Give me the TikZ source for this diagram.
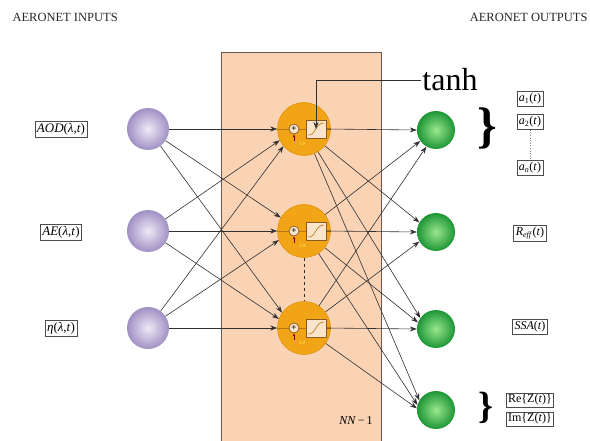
\documentclass[tikz,border=0pt]{standalone}
\usepackage{fontspec}
\setmainfont{Liberation Serif}
\usetikzlibrary{arrows.meta}
\definecolor{peach}{HTML}{FAD2B4}
\definecolor{peachline}{HTML}{6A5A50}
\definecolor{neuronfill}{HTML}{F0A416}
\definecolor{neuronline}{HTML}{E0960C}
\definecolor{innerc}{HTML}{B87410}
\definecolor{boxfill}{HTML}{FBE4CC}
\definecolor{boxline}{HTML}{8A5A20}
\definecolor{lavout}{HTML}{A090C4}
\definecolor{lavin}{HTML}{EEEAF6}
\definecolor{grout}{HTML}{1C9636}
\definecolor{grin}{HTML}{9BE68E}
\definecolor{arrc}{HTML}{303030}
\begin{document}
\begin{tikzpicture}[x=1pt,y=-1pt,
  inball/.style={circle,minimum size=42pt,inner sep=0pt,shading=radial,inner color=lavin,outer color=lavout},
  outball/.style={circle,minimum size=38pt,inner sep=0pt,shading=radial,inner color=grin,outer color=grout},
  neuron/.style={circle,minimum size=53pt,inner sep=0pt,fill=neuronfill,draw=neuronline,line width=0.6pt},
  innerline/.style={draw=innerc,line width=0.8pt},
  plusc/.style={circle,minimum size=10pt,inner sep=0pt,fill=boxfill,draw=boxline,line width=0.7pt,font=\fontsize{9}{9}\selectfont\bfseries},
  sbox/.style={rectangle,minimum width=20pt,minimum height=18pt,inner sep=0pt,fill=boxfill,draw=boxline,line width=0.7pt},
  sig/.style={draw=innerc,line width=0.6pt},
  bias/.style={draw=red!50!black,line width=0.7pt,-{Stealth[length=3pt,width=2.5pt]}},
  tinytxt/.style={font=\fontsize{5}{5}\selectfont\itshape,text=yellow!60!white},
  con/.style={draw=arrc,line width=0.6pt,-{Stealth[length=7pt,width=5pt]}},
  lbl/.style={draw=gray!60!black,line width=0.8pt,fill=white,inner sep=2pt,font=\fontsize{13}{14}\selectfont},
  rlbl/.style={lbl,font=\fontsize{12}{13}\selectfont},
  title/.style={font=\fontsize{12.5}{14}\selectfont,text=black!85}
]
\useasboundingbox (0,0) rectangle (590,441);
% layer rectangle
\draw[fill=peach,draw=peachline,line width=0.8pt] (221,52) rectangle (381,445);
\node[font=\fontsize{12}{13}\selectfont] (nn) at (356,421) {\textit{NN}\,\textminus\,1};

% titles
\node[title,anchor=west] (tin) at (9,17) {AERONET INPUTS};
\node[title,anchor=east] (tout) at (591,17) {AERONET OUTPUTS};

% input nodes
\node[inball] (in1) at (148,129) {};
\node[inball] (in2) at (148,231) {};
\node[inball] (in3) at (148,328) {};

% output nodes
\node[outball] (g1) at (436,130) {};
\node[outball] (g2) at (436,232) {};
\node[outball] (g3) at (436,329) {};
\node[outball] (g4) at (436,410) {};

% hidden neurons
\foreach \i/\yy in {1/129,2/231,3/328}{
  \node[neuron] (h\i) at (304,\yy) {};
  \draw[innerline] (h\i.west) -- (h\i.east);
  \node[plusc] (p\i) at (294,\yy) {+};
  \node[sbox] (s\i) at (316,\yy) {};
  \draw[sig] (308,{\yy+6}) .. controls (316,{\yy+7}) and (315,{\yy-6}) .. (324,{\yy-6});
  \coordinate (b\i) at (294,{\yy+12});
  \draw[bias] (b\i) -- (p\i.south);
  \node[tinytxt] (t\i) at (302,{\yy+15}) {1.0};
}
\draw[dashed,draw=arrc,line width=0.7pt] (h2.south) -- (h3.north);

% tanh
\node[font=\fontsize{32}{34}\selectfont,inner sep=1pt] (tanh) at (450,80) {tanh};
\draw[con] (tanh.west) -| (s1.center);

% input -> hidden
\draw[con] (in1.east) -- (h1.west);
\draw[con] (in1) -- (h2.150);
\draw[con] (in1) -- (h3.145);
\draw[con] (in2) -- (h1.205);
\draw[con] (in2.east) -- (h2.west);
\draw[con] (in2) -- (h3.160);
\draw[con] (in3) -- (h1.220);
\draw[con] (in3) -- (h2.200);
\draw[con] (in3.east) -- (h3.west);

% hidden -> output
\draw[con] (s1.east) -- (g1.west);
\draw[con] (h1) -- (g2.150);
\draw[con] (h1) -- (g3.145);
\draw[con] (h1) -- (g4.150);
\draw[con] (h2) -- (g1.215);
\draw[con] (s2.east) -- (g2.west);
\draw[con] (h2) -- (g3.160);
\draw[con] (h2) -- (g4.165);
\draw[con] (h3) -- (g1.240);
\draw[con] (h3) -- (g2.210);
\draw[con] (s3.east) -- (g3.west);
\draw[con] (h3) -- (g4.175);

% input labels
\node[lbl] (l1) at (61,129) {\textit{AOD}(\textit{λ},\textit{t})};
\node[lbl] (l2) at (61,232) {\textit{AE}(\textit{λ},\textit{t})};
\node[lbl] (l3) at (61,328) {\textit{η}(\textit{λ},\textit{t})};

% output labels
\node[rlbl] (a1) at (530,99) {\textit{a}\textsubscript{1}(\textit{t})};
\node[rlbl] (a2) at (530,122) {\textit{a}\textsubscript{2}(\textit{t})};
\node[rlbl] (an) at (530,168) {\textit{a}\textsubscript{\textit{n}}(\textit{t})};
\draw[dotted,draw=gray,line width=0.6pt] (a2.south) -- (an.north);
\node[rlbl] (reff) at (530,233) {\textit{R}\textsubscript{\textit{eff}}(\textit{t})};
\node[rlbl] (ssa) at (530,327) {\textit{SSA}(\textit{t})};
\node[rlbl,inner sep=1.5pt] (re) at (530,400) {Re\{Z(\textit{t})\}};
\node[rlbl,inner sep=1.5pt] (im) at (530,419) {Im\{Z(\textit{t})\}};

% braces
\node[font=\fontsize{50}{50}\selectfont\bfseries] (br1) at (487,128) {\}};
\node[font=\fontsize{38}{38}\selectfont\bfseries] (br2) at (486,408) {\}};
\end{tikzpicture}
\end{document}
